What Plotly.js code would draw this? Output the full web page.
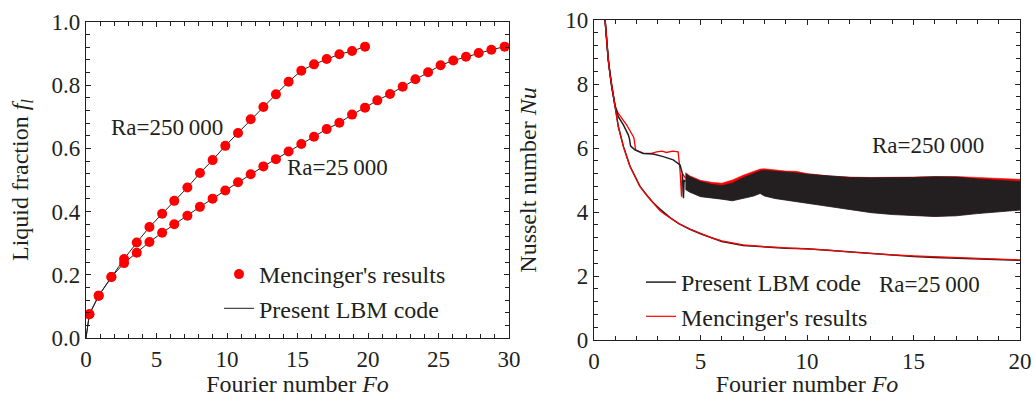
<!DOCTYPE html>
<html>
<head>
<meta charset="utf-8">
<script src="https://cdn.plot.ly/plotly-3.0.1.min.js"></script>
<style>html,body{margin:0;padding:0;background:#fff;}#chart{width:1035px;height:397px;}</style>
</head>
<body>
<div id="chart"></div>
<script>
// ---------- Left panel: liquid fraction vs Fourier number ----------
const men250_fo = [0.24, 0.9, 1.8, 2.7, 3.6, 4.5, 5.4, 6.26, 7.19, 8.08, 8.98, 9.88, 10.78, 11.68, 12.58, 13.47, 14.37, 15.27, 16.17, 17.07, 17.97, 18.87, 19.79];
const men250_fl = [0.075, 0.134, 0.193, 0.25, 0.302, 0.351, 0.393, 0.434, 0.476, 0.522, 0.563, 0.608, 0.649, 0.692, 0.731, 0.771, 0.811, 0.846, 0.866, 0.883, 0.898, 0.908, 0.922];
const men25_fo = [0.24, 0.9, 1.8, 2.7, 3.6, 4.5, 5.4, 6.26, 7.19, 8.08, 8.98, 9.88, 10.78, 11.68, 12.58, 13.47, 14.37, 15.27, 16.17, 17.07, 17.97, 18.87, 19.79, 20.66, 21.56, 22.46, 23.36, 24.26, 25.15, 26.05, 26.95, 27.85, 28.75, 29.69];
const men25_fl = [0.075, 0.134, 0.193, 0.237, 0.27, 0.304, 0.333, 0.36, 0.387, 0.415, 0.441, 0.467, 0.493, 0.518, 0.543, 0.566, 0.59, 0.614, 0.637, 0.661, 0.681, 0.707, 0.729, 0.752, 0.772, 0.795, 0.819, 0.841, 0.863, 0.878, 0.89, 0.902, 0.912, 0.922];
const lbm250_fo = [0, 0.24, 0.9, 1.8, 2.7, 3.6, 4.5, 5.4, 6.26, 7.19, 8.08, 8.98, 9.88, 10.78, 11.68, 12.58, 13.47, 14.37, 15.27, 16.17, 17.07, 17.97, 18.87, 19.79];
const lbm250_fl = [0, 0.075, 0.134, 0.193, 0.25, 0.302, 0.351, 0.393, 0.434, 0.476, 0.522, 0.563, 0.608, 0.649, 0.692, 0.731, 0.771, 0.811, 0.846, 0.866, 0.883, 0.898, 0.908, 0.922];
const lbm25_fo = [0, 0.24, 0.9, 1.8, 2.7, 3.6, 4.5, 5.4, 6.26, 7.19, 8.08, 8.98, 9.88, 10.78, 11.68, 12.58, 13.47, 14.37, 15.27, 16.17, 17.07, 17.97, 18.87, 19.79, 20.66, 21.56, 22.46, 23.36, 24.26, 25.15, 26.05, 26.95, 27.85, 28.75, 29.69];
const lbm25_fl = [0, 0.075, 0.134, 0.193, 0.237, 0.27, 0.304, 0.333, 0.36, 0.387, 0.415, 0.441, 0.467, 0.493, 0.518, 0.543, 0.566, 0.59, 0.614, 0.637, 0.661, 0.681, 0.707, 0.729, 0.752, 0.772, 0.795, 0.819, 0.841, 0.863, 0.878, 0.89, 0.902, 0.912, 0.922];

// ---------- Right panel: Nusselt number vs Fourier number ----------
// Ra = 25 000 (smooth curves)
const nu25_fo = [0.52, 0.6, 0.67, 0.75, 0.83, 0.99, 1.14, 1.38, 1.69, 2.0, 2.16, 2.5, 2.78, 3.1, 3.33, 3.6, 4.0, 4.5, 5.0, 5.5, 6.0, 7.0, 8.0, 9.0, 10.0, 11.0, 12.0, 13.0, 14.0, 15.0, 16.0, 17.0, 18.0, 19.0, 20.0];
const nu25_men = [10.0, 9.3, 8.75, 8.3, 7.92, 7.29, 6.67, 6.04, 5.42, 5.0, 4.79, 4.5, 4.27, 4.04, 3.92, 3.8, 3.63, 3.47, 3.33, 3.2, 3.1, 2.97, 2.92, 2.89, 2.86, 2.81, 2.75, 2.7, 2.66, 2.63, 2.6, 2.57, 2.55, 2.53, 2.5];
const nu25_lbm = [10.0, 9.3, 8.78, 8.32, 7.95, 7.3, 6.68, 6.05, 5.43, 5.01, 4.8, 4.51, 4.29, 4.09, 3.95, 3.81, 3.63, 3.46, 3.32, 3.19, 3.08, 2.95, 2.9, 2.87, 2.85, 2.8, 2.74, 2.69, 2.65, 2.61, 2.58, 2.56, 2.54, 2.52, 2.49];
// Ra = 250 000, early transient
const nu250_lbm_fo = [0.52, 0.67, 0.83, 0.99, 1.14, 1.38, 1.61, 1.66, 1.72, 1.92, 2.31, 2.78, 3.25, 3.72, 4.04, 4.15, 4.2, 4.23, 4.3];
const nu250_lbm = [10.0, 8.75, 7.92, 7.3, 6.98, 6.72, 6.41, 6.3, 6.06, 5.94, 5.83, 5.81, 5.73, 5.63, 5.47, 5.2, 4.43, 5.0, 4.95];
const nu250_men_fo = [0.52, 0.67, 0.83, 0.99, 1.14, 1.53, 1.85, 1.88, 1.95, 2.3, 2.7, 2.94, 3.2, 3.4, 3.7, 3.95, 4.04, 4.08, 4.11, 4.15, 4.3];
const nu250_men = [10.0, 8.75, 7.92, 7.32, 7.08, 6.72, 6.35, 6.3, 5.94, 5.84, 5.83, 5.88, 5.9, 5.86, 5.9, 5.88, 5.3, 4.9, 4.48, 5.2, 5.05];
// Ra = 250 000, oscillating band (upper / lower envelopes)
const band_fo = [4.3, 4.5, 5.0, 5.5, 6.0, 6.5, 7.0, 7.5, 7.8, 8.0, 8.5, 9.0, 9.5, 10.0, 11.0, 12.0, 13.0, 14.0, 15.0, 16.0, 17.0, 18.0, 19.0, 20.0];
const band_lbm_hi = [5.2, 5.1, 4.95, 4.87, 4.82, 4.9, 5.07, 5.2, 5.28, 5.3, 5.28, 5.25, 5.22, 5.18, 5.12, 5.08, 5.07, 5.07, 5.08, 5.1, 5.09, 5.03, 4.98, 4.95];
const band_lbm_lo = [4.7, 4.62, 4.48, 4.43, 4.4, 4.35, 4.42, 4.5, 4.58, 4.5, 4.42, 4.38, 4.32, 4.27, 4.18, 4.08, 3.98, 3.92, 3.89, 3.86, 3.88, 3.95, 4.01, 4.06];
const band_men_hi = [5.23, 5.13, 4.99, 4.93, 4.9, 5.0, 5.15, 5.27, 5.34, 5.35, 5.31, 5.28, 5.27, 5.2, 5.13, 5.09, 5.08, 5.08, 5.09, 5.11, 5.11, 5.08, 5.05, 5.02];
const band_men_lo = [4.72, 4.64, 4.5, 4.45, 4.42, 4.37, 4.44, 4.55, 4.6, 4.52, 4.44, 4.4, 4.34, 4.29, 4.22, 4.12, 4.0, 3.94, 3.9, 3.87, 3.9, 3.97, 4.03, 4.08];

const INK = '#231f20';
const RED = '#ff0000';
const FONT = 'Liberation Serif';

function polyX(xs){ return xs.concat(xs.slice().reverse()); }
function polyY(hi, lo){ return hi.concat(lo.slice().reverse()); }

const traces = [
  // left panel
  {x: lbm250_fo, y: lbm250_fl, xaxis:'x', yaxis:'y', mode:'lines', line:{color:INK, width:1}, name:'Present LBM code', legend:'legend', legendrank:2, showlegend:true},
  {x: lbm25_fo, y: lbm25_fl, xaxis:'x', yaxis:'y', mode:'lines', line:{color:INK, width:1}, showlegend:false},
  {x: men250_fo, y: men250_fl, xaxis:'x', yaxis:'y', mode:'markers', marker:{color:RED, size:10}, name:"Mencinger's results", legend:'legend', legendrank:1, showlegend:true},
  {x: men25_fo, y: men25_fl, xaxis:'x', yaxis:'y', mode:'markers', marker:{color:RED, size:10}, showlegend:false},
  // right panel: Ra = 250 000
  {x: polyX(band_fo), y: polyY(band_men_hi, band_men_lo), xaxis:'x2', yaxis:'y2', mode:'lines', fill:'toself', fillcolor:RED, line:{color:RED, width:0.6}, showlegend:false},
  {x: nu250_men_fo, y: nu250_men, xaxis:'x2', yaxis:'y2', mode:'lines', line:{color:RED, width:1.3}, showlegend:false},
  {x: polyX(band_fo), y: polyY(band_lbm_hi, band_lbm_lo), xaxis:'x2', yaxis:'y2', mode:'lines', fill:'toself', fillcolor:INK, line:{color:INK, width:0.8}, showlegend:false},
  {x: nu250_lbm_fo, y: nu250_lbm, xaxis:'x2', yaxis:'y2', mode:'lines', line:{color:INK, width:1.5}, showlegend:false},
  // right panel: Ra = 25 000
  {x: nu25_fo, y: nu25_lbm, xaxis:'x2', yaxis:'y2', mode:'lines', line:{color:INK, width:1.5}, name:'Present LBM code', legend:'legend2', legendrank:1, showlegend:true},
  {x: nu25_fo, y: nu25_men, xaxis:'x2', yaxis:'y2', mode:'lines', line:{color:RED, width:1.2}, name:"Mencinger's results", legend:'legend2', legendrank:2, showlegend:true}
];

function axisBase(){
  return {
    showgrid:false, zeroline:false, showline:true, mirror:'ticks', automargin:false,
    linecolor:INK, linewidth:1.2, ticks:'inside', ticklen:5, tickwidth:1, tickcolor:INK,
    tickfont:{family:FONT, size:23, color:INK},
    fixedrange:true
  };
}

const xa = Object.assign(axisBase(), {domain:[86/1035, 509/1035], range:[0,30], dtick:5, tick0:0,
  minor:{dtick:1, ticks:'inside', ticklen:4, tickcolor:INK, tickwidth:1},
  title:{text:'Fourier number <i>Fo</i>', font:{family:FONT, size:24, color:INK}}, anchor:'y'});
const ya = Object.assign(axisBase(), {domain:[59/397, 375/397], range:[0,1], dtick:0.2, tick0:0, tickformat:'.1f',
  minor:{dtick:0.04, ticks:'inside', ticklen:4, tickcolor:INK, tickwidth:1},
  title:{text:'Liquid fraction <i>f</i><sub><i>l</i></sub>', font:{family:FONT, size:24, color:INK}}, anchor:'x'});
const xa2 = Object.assign(axisBase(), {domain:[594/1035, 1020/1035], range:[0,20], dtick:5, tick0:0,
  minor:{dtick:1, ticks:'inside', ticklen:4, tickcolor:INK, tickwidth:1},
  title:{text:'Fourier number <i>Fo</i>', font:{family:FONT, size:24, color:INK}}, anchor:'y2'});
const ya2 = Object.assign(axisBase(), {domain:[57/397, 377/397], range:[0,10], dtick:2, tick0:0,
  minor:{dtick:0.4, ticks:'inside', ticklen:4, tickcolor:INK, tickwidth:1},
  title:{text:'Nusselt number <i>Nu</i>', font:{family:FONT, size:24, color:INK}}, anchor:'x2'});

const annFont = {family:FONT, size:23, color:INK};
const layout = {
  width:1035, height:397,
  margin:{l:0, r:0, t:0, b:0},
  paper_bgcolor:'#ffffff', plot_bgcolor:'#ffffff',
  font:{family:FONT, color:INK},
  xaxis:xa, yaxis:ya, xaxis2:xa2, yaxis2:ya2,
  showlegend:true,
  legend:{x:219/1035, y:(397-252)/397, xanchor:'left', yanchor:'top', bgcolor:'rgba(0,0,0,0)',
    font:{family:FONT, size:24, color:INK}, tracegroupgap:0, traceorder:'normal'},
  legend2:{x:641/1035, y:(397-260)/397, xanchor:'left', yanchor:'top', bgcolor:'rgba(0,0,0,0)',
    font:{family:FONT, size:24, color:INK}, tracegroupgap:0, traceorder:'normal'},
  annotations:[
    {xref:'x', yref:'y', x:1.63, y:0.665, xanchor:'left', yanchor:'middle', text:'Ra=250\u2009000', showarrow:false, font:annFont},
    {xref:'x', yref:'y', x:14.1, y:0.538, xanchor:'left', yanchor:'middle', text:'Ra=25\u2009000', showarrow:false, font:annFont},
    {xref:'x2', yref:'y2', x:12.96, y:6.09, xanchor:'left', yanchor:'middle', text:'Ra=250\u2009000', showarrow:false, font:annFont},
    {xref:'x2', yref:'y2', x:13.29, y:1.72, xanchor:'left', yanchor:'middle', text:'Ra=25\u2009000', showarrow:false, font:annFont}
  ]
};

Plotly.newPlot('chart', traces, layout, {staticPlot:true, displayModeBar:false});
</script>
</body>
</html>
